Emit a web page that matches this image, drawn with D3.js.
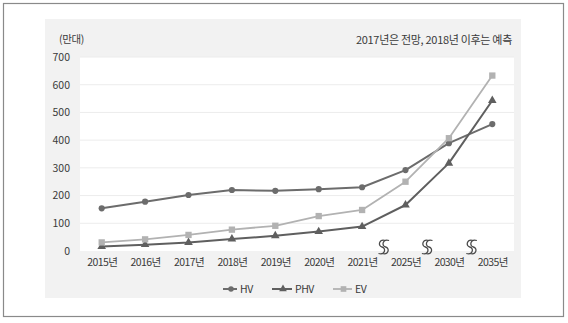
<!DOCTYPE html>
<html>
<head>
<meta charset="utf-8">
<script src="https://cdn.jsdelivr.net/npm/d3@7"></script>
<style>
  html, body { margin: 0; padding: 0; background: #fff; }
  svg { display: block; }
  text { font-family: "Noto Sans CJK KR", "Noto Sans", sans-serif; fill: #3a3a3a; }
</style>
</head>
<body>
<svg id="chart" width="568" height="323"></svg>
<script>
// 연도별 친환경차 판매량 (만대)
const years = ["2015년", "2016년", "2017년", "2018년", "2019년", "2020년", "2021년", "2025년", "2030년", "2035년"];
const hv  = [154, 178, 202, 220, 217, 223, 230, 292, 389, 458];
const phv = [16, 23, 31, 43, 55, 70, 88, 166, 317, 543];
const ev  = [31, 42, 58, 77, 91, 126, 148, 250, 407, 633];
const yTicks = [0, 100, 200, 300, 400, 500, 600, 700];
const unitLabel = "(만대)";
const note = "2017년은 전망, 2018년 이후는 예측";

const svg = d3.select("#chart");

// outer frame and shaded panel
svg.append("rect").attr("x", 3.5).attr("y", 3.5).attr("width", 560).attr("height", 313)
  .attr("fill", "#fff").attr("stroke", "#8a8a8a").attr("stroke-width", 1.2);
svg.append("rect").attr("x", 45).attr("y", 19).attr("width", 476).attr("height", 279)
  .attr("fill", "#f2f2f2");

const plot = { left: 80, right: 514, top: 57, bottom: 251 };
svg.append("rect").attr("x", plot.left).attr("y", plot.top)
  .attr("width", plot.right - plot.left).attr("height", plot.bottom - plot.top)
  .attr("fill", "#fff");

const x = d3.scalePoint().domain(years).range([plot.left, plot.right]).padding(0.5);
const y = d3.scaleLinear().domain([0, 700]).range([plot.bottom, plot.top]);

// horizontal gridlines
svg.append("g").selectAll("line").data(yTicks.filter(d => d > 0)).join("line")
  .attr("x1", plot.left).attr("x2", plot.right)
  .attr("y1", d => y(d)).attr("y2", d => y(d))
  .attr("stroke", "#ececec").attr("stroke-width", 1);

// y axis labels
const yAxis = svg.append("g").attr("transform", `translate(${plot.left - 10},0)`)
  .call(d3.axisLeft(y).tickValues(yTicks).tickSize(0).tickPadding(0));
yAxis.select(".domain").remove();
yAxis.selectAll("text").style("font-size", "10.5px").attr("fill", "#3a3a3a")
  .style("font-family", "'Noto Sans CJK KR', sans-serif");

// x axis labels
const xAxis = svg.append("g").attr("transform", `translate(0,${plot.bottom + 8})`)
  .call(d3.axisBottom(x).tickSize(0).tickPadding(0));
xAxis.select(".domain").remove();
xAxis.selectAll("text").style("font-size", "10.5px").attr("fill", "#3a3a3a")
  .style("letter-spacing", "-0.6px")
  .style("font-family", "'Noto Sans CJK KR', sans-serif");

// axis break marks between discontinuous years
const breaks = [[6, 7], [7, 8], [8, 9]];
const breakG = svg.append("g");
breaks.forEach(([a, b], i) => {
  const cx = (x(years[a]) + x(years[b])) / 2 + (i === 2 ? 1 : 0);
  const cy = plot.bottom - 4;
  [-1.8, 1.8].forEach(dx => {
    const p = d3.path();
    const sx = cx + dx;
    p.moveTo(sx + 3.5, cy - 6.5);
    p.bezierCurveTo(sx - 3, cy - 8.5, sx - 4.5, cy - 1, sx, cy);
    p.bezierCurveTo(sx + 4.5, cy + 1, sx + 3, cy + 8.5, sx - 3.5, cy + 6.5);
    breakG.append("path").attr("d", p.toString())
      .attr("fill", "none").attr("stroke", "#4a4a4a").attr("stroke-width", 1.3);
  });
});

// series
const series = [
  { name: "HV",  values: hv,  color: "#6c6c6c", width: 2,   marker: "circle" },
  { name: "PHV", values: phv, color: "#5f5f5f", width: 2,   marker: "triangle" },
  { name: "EV",  values: ev,  color: "#b2b2b2", width: 1.8, marker: "square" }
];

const symbolOf = m => m === "circle" ? d3.symbolCircle : m === "triangle" ? d3.symbolTriangle : d3.symbolSquare;
const sizeOf = m => m === "circle" ? 30 : m === "triangle" ? 32 : 40;

const line = d3.line().x((d, i) => x(years[i])).y(d => y(d));

series.forEach(s => {
  const g = svg.append("g");
  g.append("path").datum(s.values).attr("d", line)
    .attr("fill", "none").attr("stroke", s.color).attr("stroke-width", s.width)
    .attr("stroke-linejoin", "round");
  g.selectAll("path.mk").data(s.values).join("path").attr("class", "mk")
    .attr("transform", (d, i) => `translate(${x(years[i])},${y(d)})`)
    .attr("d", d3.symbol().type(symbolOf(s.marker)).size(sizeOf(s.marker)))
    .attr("fill", s.color);
});

// unit and note
svg.append("text").attr("x", 59).attr("y", 43).text(unitLabel)
  .style("font-size", "10.5px").style("letter-spacing", "-0.4px");
svg.append("text").attr("x", 512).attr("y", 44).attr("text-anchor", "end").text(note)
  .style("font-size", "11px").style("letter-spacing", "-0.3px");

// legend
const legendItems = [
  { s: series[0], x: 223, tx: 240 },
  { s: series[1], x: 272, tx: 295 },
  { s: series[2], x: 333, tx: 355 }
];
const legendY = 289;
legendItems.forEach(({ s, x: lx, tx }) => {
  const w = tx - lx - 3;
  svg.append("line").attr("x1", lx).attr("x2", lx + w).attr("y1", legendY).attr("y2", legendY)
    .attr("stroke", s.color).attr("stroke-width", s.width);
  svg.append("path").attr("transform", `translate(${lx + w / 2 + 1},${legendY})`)
    .attr("d", d3.symbol().type(symbolOf(s.marker)).size(sizeOf(s.marker) * 0.8))
    .attr("fill", s.color);
  svg.append("text").attr("x", tx).attr("y", legendY + 4).text(s.name)
    .style("font-size", "10.5px").style("letter-spacing", "-0.5px");
});
</script>
</body>
</html>
